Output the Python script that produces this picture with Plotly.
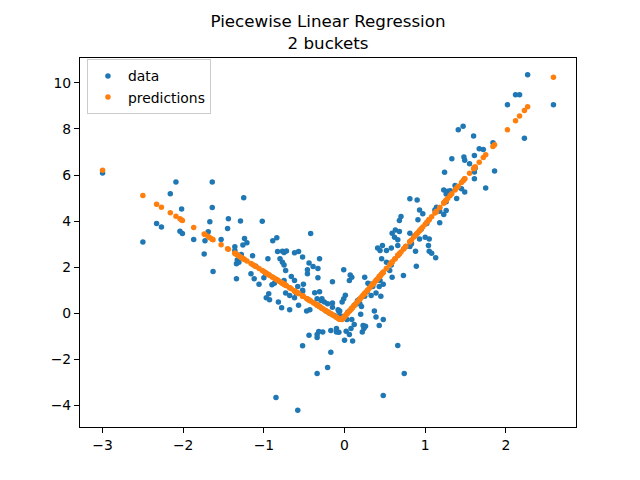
import plotly.graph_objects as go

data_x = [
    -3.00, -2.50, -2.33, -2.27, -2.16, -2.09, -2.02, -2.04, -2.01, -1.87,
    -1.73, -1.74, -1.64, -1.64, -1.67, -1.69, -1.63, -1.53, -1.44, -1.45,
    -1.36, -1.36, -1.29, -1.25, -1.24, -1.21, -1.26, -1.28, -1.33, -1.34,
    -1.31, -1.34,
    -1.02, -0.42, -0.89, -0.84, -0.83, -0.77, -0.75, -0.72, -0.62, -0.57,
    -0.52, -0.31, -0.44, -0.80, -0.77, -0.75, -0.95, -1.14, -0.73, -0.46,
    -0.46, -0.39, -0.33, -0.33, -0.15, -0.01, 0.07, 0.06, -1.16, -1.12,
    -1.06, -1.00, -0.90, -0.87, -0.66, -0.62, -0.75, -0.58, -0.51, -0.73,
    -0.68, -0.94, -0.97, -0.52, -0.37, -0.31, -0.62, -0.34, -0.28, 0.01,
    -0.01, -0.93, -0.82, -0.78, -0.68, -0.57, -0.52, -0.25, -0.21, -0.15,
    -0.15, -0.47, -0.43, -0.07, 0.12, 0.12, 0.08, 0.06, 0.00, 0.10,
    -0.10, -0.07, -0.17, -0.32, -0.34, -0.34, -0.44, -0.52, -0.17, -0.21,
    -0.34, -0.85, -0.58,
    -0.29, -0.03, -0.08, -0.06, -0.27, -0.10, -0.12, -0.19, -0.23, -0.60,
    -1.10, -0.98,
    -0.06, -0.02, 0.03, 0.21, 0.20, 0.37, 0.39, 0.48, 0.43, 0.26,
    0.24, 0.22, 0.66, 0.74, 0.48, 0.25, 0.29, 0.35, 0.44, 0.48,
    0.43, 0.33, 0.45, 0.25, 0.47, 0.41, 0.44, 0.52, 0.58, 0.46,
    0.52, 0.58, 0.56, 0.59, 0.73, 0.89, 0.81, 0.90, 0.93, 0.97,
    0.91, 0.70, 0.68, 0.63, 0.68, 0.59, 0.62, 0.66, 0.66, 0.81,
    0.86, 0.93, 1.00, 1.05, 0.83, 0.81, 0.88, 1.04, 1.05, 1.08,
    1.13, 0.39,
    0.09, 0.31, 0.19, 0.35, 0.09, 0.23, 0.02, 0.14, 0.16, 0.18,
    0.04, 0.28, 0.40, 0.76, 0.95,
    1.24, 1.23, 1.28, 1.26, 1.31, 1.37, 1.23, 1.18, 1.26, 1.14,
    1.18, 1.02, 2.27, 2.12, 2.17, 2.02, 2.59, 2.23, 1.41, 1.47,
    1.60, 1.84, 1.67, 1.72, 1.33, 1.48, 1.49, 1.61, 1.55, 1.62,
    1.61, 1.61, 1.86, 1.75, 1.45, 1.49, 1.39, 1.26, 1.12,
]
data_y = [
    6.09, 3.10, 3.90, 3.75, 5.19, 5.70, 4.53, 3.56, 3.46, 3.20,
    3.15, 2.58, 5.70, 4.59, 3.97, 3.54, 1.82, 3.20, 4.11, 3.68,
    2.89, 2.73, 4.01, 5.02, 3.25, 3.06, 2.97, 2.55, 2.32, 2.15,
    2.22, 1.50,
    4.00, 3.46, 3.15, 3.28, 2.68, 2.70, 2.64, 2.71, 2.63, 2.68,
    2.45, 2.37, 2.19, 2.37, 2.22, 2.10, 2.37, 2.50, 1.86, 1.89,
    1.72, 2.03, 1.95, 1.55, 1.37, 1.89, 1.67, 1.43, 1.72, 1.50,
    1.26, 1.55, 1.24, 1.31, 1.60, 1.43, 1.43, 1.17, 1.26, 0.88,
    0.78, 0.85, 0.68, 0.95, 0.90, 0.94, 0.68, 0.64, 0.64, 0.79,
    0.64, 0.59, 0.49, 0.25, 0.16, 0.35, 1.00, 0.49, 0.42, 0.45,
    0.27, 0.10, 0.16, 0.09, 0.35, -0.48, -0.66, -0.91, -1.17, -1.20,
    -0.66, -0.82, -0.74, -0.78, -0.91, -1.05, -0.95, -1.40, -1.69, -2.35,
    -2.61, -3.65, -4.20,
    0.56, 0.49, 0.16, -0.09, -0.81, -0.81, -0.10, 0.02, 0.10, 0.90,
    2.05, 1.75,
    0.10, -0.13, -0.27, 0.30, -0.04, 0.10, -0.16, -0.27, -0.52, -0.56,
    -0.66, -0.81, -1.39, -2.61, -3.56, 1.57, 1.31, 1.17, 1.43, 1.26,
    1.17, 0.78, 0.74, 0.74, 2.94, 2.84, 2.73, 2.73, 2.84, 2.37,
    2.22, 2.10, 1.86, 1.57, 1.64, 2.05, 4.97, 4.92, 4.49, 4.32,
    4.06, 4.20, 4.03, 3.62, 3.55, 3.48, 3.30, 3.19, 2.94, 3.48,
    3.33, 3.23, 3.30, 3.23, 3.02, 2.90, 2.70, 2.94, 2.70, 2.61,
    2.41, 0.88,
    1.57, 1.26, 0.42, 1.29, -0.27, -0.52, -0.77, 0.40, 0.55, 0.60,
    0.05, 0.95, 1.45, 2.90, 3.65,
    6.12, 5.35, 5.30, 5.18, 5.32, 5.55, 4.29, 4.43, 4.46, 4.60,
    3.93, 3.90, 10.35, 9.48, 9.48, 9.05, 9.05, 7.60, 7.97, 8.12,
    7.69, 7.40, 7.14, 7.11, 6.71, 6.78, 6.64, 6.85, 6.49, 6.31,
    6.13, 5.84, 6.18, 5.44, 5.41, 5.27, 4.98, 4.84, 4.48,
]

# Fitted 2-bucket model (break point, intercept, slope per bucket)
break_x = -0.03
left_intercept, left_slope = -0.388, -2.20
right_intercept, right_slope = -0.14, 4.01

pred_y = [
    (left_intercept + left_slope * x) if x < break_x else (right_intercept + right_slope * x)
    for x in data_x
]

x_ticks = [-3, -2, -1, 0, 1, 2]
y_ticks = [-4, -2, 0, 2, 4, 6, 8, 10]


def lab(v):
    return ("\u2212" + str(abs(v))) if v < 0 else str(v)


all_y = data_y + pred_y
xmin, xmax = min(data_x), max(data_x)
ymin, ymax = min(all_y), max(all_y)
xpad = (xmax - xmin) * 0.05
ypad = (ymax - ymin) * 0.05

font = "DejaVu Sans"

fig = go.Figure()
fig.add_trace(go.Scatter(
    x=data_x, y=data_y, mode="markers", name="data",
    marker=dict(color="#1f77b4", size=5.5, line=dict(width=0)),
))
fig.add_trace(go.Scatter(
    x=data_x, y=pred_y, mode="markers", name="predictions",
    marker=dict(color="#ff7f0e", size=5.5, line=dict(width=0)),
))

axis_common = dict(
    showline=True, mirror=True, linecolor="black", linewidth=1.1,
    ticks="outside", ticklen=5, tickwidth=1.1, tickcolor="black",
    showgrid=False, zeroline=False, automargin=False,
    tickfont=dict(family=font, size=13.9, color="black"),
)

fig.update_layout(
    width=640, height=480,
    margin=dict(l=80, r=64, t=57.6, b=52.8, autoexpand=False),
    paper_bgcolor="white", plot_bgcolor="white",
    font=dict(family=font, color="black"),
    title=dict(
        text="Piecewise Linear Regression<br>2 buckets",
        x=0.5, xref="paper", xanchor="center",
        y=1 - 27 / 480, yref="container", yanchor="top",
        font=dict(family=font, size=16.7, color="black"),
    ),
    xaxis=dict(range=[xmin - xpad, xmax + xpad], tickvals=x_ticks,
               ticktext=[lab(v) for v in x_ticks], **axis_common),
    yaxis=dict(range=[ymin - ypad, ymax + ypad], tickvals=y_ticks,
               ticktext=[lab(v) for v in y_ticks], **axis_common),
    legend=dict(
        x=0.014, y=0.996, xanchor="left", yanchor="top",
        bordercolor="#cccccc", borderwidth=1, bgcolor="rgba(255,255,255,0.8)",
        font=dict(family=font, size=13.9, color="black"),
        tracegroupgap=2,
    ),
    showlegend=True,
)

fig.write_html("out.html", config={"displayModeBar": False},
               post_script="document.body.style.margin='0';")
